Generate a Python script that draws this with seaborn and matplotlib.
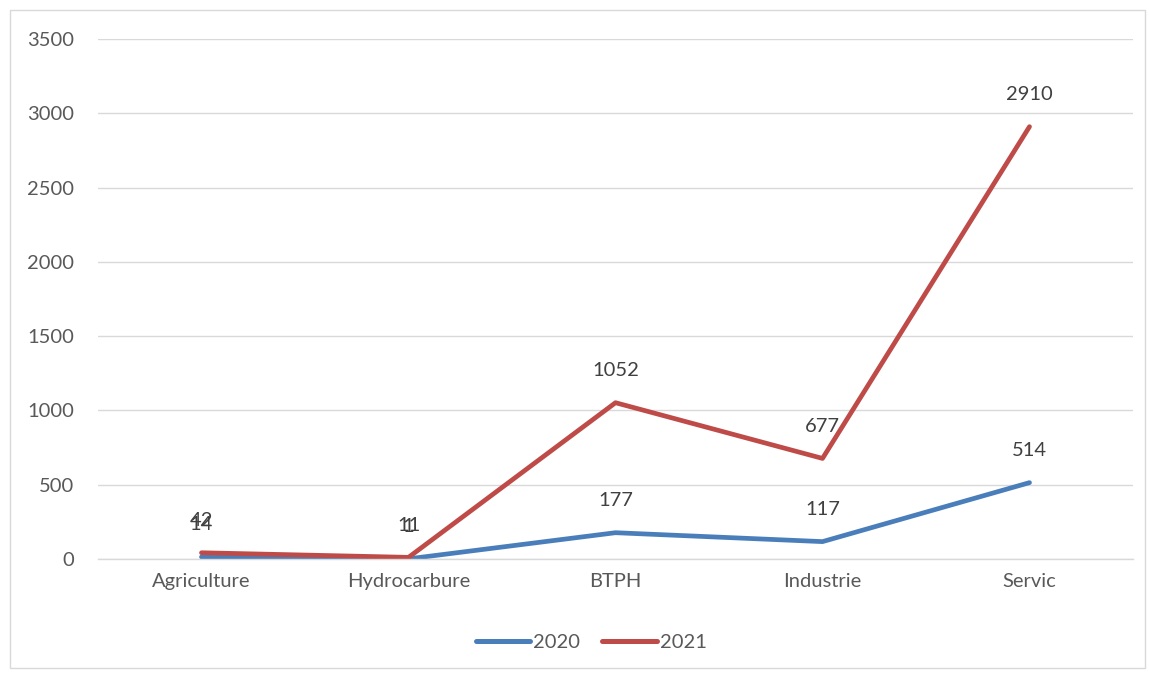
import matplotlib
matplotlib.use("Agg")
import matplotlib.pyplot as plt
import seaborn as sns
import pandas as pd
from matplotlib.patches import Rectangle
from matplotlib.lines import Line2D

categories = ["Agriculture", "Hydrocarbure", "BTPH", "Industrie", "Servic"]
values_2020 = [14, 1, 177, 117, 514]
values_2021 = [42, 11, 1052, 677, 2910]
series_names = ["2020", "2021"]
yticks = [0, 500, 1000, 1500, 2000, 2500, 3000, 3500]

colors = {"2020": "#4a7ebb", "2021": "#be4b48"}

sns.set_theme(style="white")
plt.rcParams['font.family'] = ['Lato', 'DejaVu Sans']

df = pd.DataFrame({
    "x": list(range(len(categories))) * 2,
    "value": values_2020 + values_2021,
    "series": [series_names[0]] * len(categories) + [series_names[1]] * len(categories),
})

fig = plt.figure(figsize=(11.49, 6.73), dpi=100)
ax = fig.add_axes([98/1149, 1 - 559/673, (1133-98)/1149, (559-39)/673])

sns.lineplot(data=df, x="x", y="value", hue="series", palette=colors, ax=ax,
             linewidth=3.4, legend=False, solid_capstyle="round", sort=False)

text_color = "#595959"
for name, vals in zip(series_names, [values_2020, values_2021]):
    for i, v in enumerate(vals):
        ax.annotate(str(v), (i, v), xytext=(0, 23), textcoords="offset points",
                    ha="center", va="center", fontsize=14.5, color="#404040")

ax.set_xlim(-0.5, len(categories) - 0.5)
ax.set_ylim(0, 3500)
ax.set_yticks(yticks)
ax.set_yticklabels([str(t) for t in yticks], fontsize=14.5, color=text_color)
ax.set_xticks(range(len(categories)))
ax.set_xticklabels(categories, fontsize=14.5, color=text_color)
ax.tick_params(axis="y", length=0, pad=17)
ax.tick_params(axis="x", length=0, pad=10)
ax.grid(axis="y", color="#d9d9d9", linewidth=1)
ax.set_axisbelow(True)
for s in ["top", "right", "left"]:
    ax.spines[s].set_visible(False)
ax.spines["bottom"].set_color("#d9d9d9")
ax.spines["bottom"].set_linewidth(1)
ax.set_xlabel("")
ax.set_ylabel("")

handles = [Line2D([0], [0], color=colors[n], lw=3.6, solid_capstyle="round") for n in series_names]
fig.legend(handles, series_names, loc="center", bbox_to_anchor=(591/1149, 1 - 642/673),
           ncol=2, frameon=False, fontsize=14.5, handlelength=2.7, handletextpad=0.15,
           columnspacing=1.1, labelcolor=text_color)

fig.patches.append(Rectangle((10/1149, 5/673), (1145-10)/1149, (663-5)/673,
                             transform=fig.transFigure, fill=False, edgecolor="#d9d9d9", lw=1))

fig.savefig("out.png", dpi=100)
